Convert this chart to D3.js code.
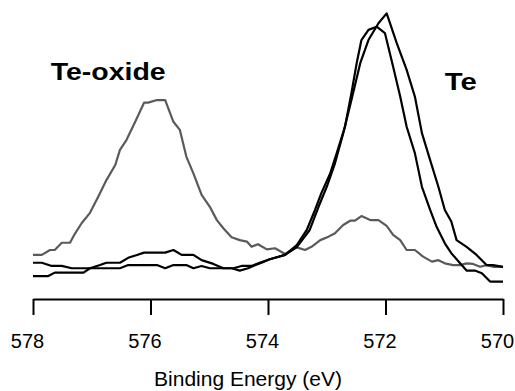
<!DOCTYPE html>
<html>
<head>
<meta charset="utf-8">
<script src="https://cdn.jsdelivr.net/npm/d3@7"></script>
<style>
  html, body { margin: 0; padding: 0; background: #fff; }
  svg { display: block; }
  text { font-family: "Liberation Sans", Arial, sans-serif; fill: #000; }
</style>
</head>
<body>
<svg id="chart" width="515" height="391"></svg>
<script>
// Te 3d5/2 XPS region: binding energy (eV) and normalised intensity (a.u.)
const oxideEnergy = [578.0, 577.85, 577.71, 577.63, 577.51, 577.37, 577.29, 577.17, 577.03, 576.89,
  576.75, 576.60, 576.52, 576.41, 576.26, 576.11, 576.04, 575.89, 575.75, 575.61, 575.50, 575.39,
  575.27, 575.13, 574.99, 574.87, 574.76, 574.62, 574.48, 574.36, 574.28, 574.17, 574.02, 573.88,
  573.71, 573.51, 573.37, 573.26, 573.11, 572.97, 572.86, 572.72, 572.60, 572.52, 572.41, 572.26,
  572.12, 571.98, 571.87, 571.75, 571.64, 571.50, 571.36, 571.21, 571.10, 570.99, 570.85, 570.73,
  570.62, 570.51, 570.39, 570.28, 570.17, 570.0];
const oxideIntensity = [15.2, 15.2, 16.9, 16.9, 19.4, 19.4, 22.4, 26.2, 29.7, 35.3,
  41.0, 46.2, 51.4, 54.8, 61.1, 67.7, 67.7, 68.6, 68.6, 61.1, 58.3, 49.1,
  43.3, 35.9, 31.8, 27.2, 24.4, 21.3, 20.3, 19.8, 18.0, 18.9, 17.1, 17.5,
  15.5, 17.8, 16.9, 18.0, 20.3, 21.5, 22.7, 25.5, 27.0, 27.0, 28.6, 27.2,
  27.2, 25.2, 22.1, 20.3, 16.9, 16.9, 14.6, 12.9, 13.4, 12.3, 11.7, 11.7,
  12.3, 12.1, 11.1, 11.7, 11.1, 11.1];

const metalAEnergy = [578.0, 577.74, 577.63, 577.14, 577.03, 576.86, 576.75, 576.52, 576.38, 576.23,
  576.11, 575.75, 575.61, 575.47, 575.27, 575.13, 574.93, 574.76, 574.62, 574.48, 574.34, 574.25,
  574.11, 573.97, 573.71, 573.51, 573.34, 573.20, 573.09, 572.94, 572.83, 572.69, 572.58, 572.49,
  572.41, 572.29, 572.15, 572.01, 571.87, 571.75, 571.64, 571.50, 571.38, 571.24, 571.13, 570.99,
  570.88, 570.73, 570.62, 570.48, 570.36, 570.22, 570.0];
const metalAIntensity = [7.9, 7.9, 9.1, 9.1, 10.6, 11.7, 12.5, 12.5, 14.2, 15.2,
  16.0, 16.0, 16.9, 15.2, 15.2, 13.4, 12.1, 10.6, 10.6, 9.8, 10.6, 11.4,
  12.5, 13.7, 15.2, 18.6, 23.8, 30.7, 36.6, 43.4, 50.3, 59.4, 71.0, 81.4,
  89.3, 92.8, 93.9, 91.7, 80.1, 69.8, 59.4, 50.3, 38.7, 30.7, 24.9, 19.2,
  15.8, 12.3, 9.8, 9.8, 8.9, 6.0, 6.0];

const metalBEnergy = [578.0, 577.85, 577.68, 577.51, 577.34, 576.52, 576.38, 575.89, 575.75, 575.61,
  575.39, 575.27, 575.13, 574.99, 574.59, 574.45, 574.28, 574.14, 573.97, 573.71, 573.51, 573.29,
  573.14, 573.0, 572.86, 572.72, 572.58, 572.43, 572.29, 572.12, 571.98, 571.81, 571.64, 571.50,
  571.38, 571.24, 571.10, 570.99, 570.88, 570.79, 570.62, 570.45, 570.28, 570.17, 570.0];
const metalBIntensity = [12.5, 12.5, 11.4, 11.4, 10.6, 10.6, 11.7, 11.7, 10.6, 11.7,
  11.7, 10.6, 11.4, 10.6, 10.6, 11.4, 11.4, 12.5, 13.7, 15.2, 17.9, 23.8,
  31.8, 38.7, 46.8, 57.1, 68.6, 81.3, 89.3, 95.1, 98.5, 88.3, 79.0, 69.8,
  57.2, 47.9, 38.7, 30.7, 26.7, 20.3, 18.0, 15.2, 11.7, 11.7, 11.1];

const xTicks = [578, 576, 574, 572, 570];
const axisTitle = "Binding Energy (eV)";
const peakLabels = [
  { text: "Te-oxide", energy: 577.7, intensity: 75.5, width: 115 },
  { text: "Te", energy: 570.99, intensity: 72, width: 32 }
];

const series = [
  { name: "oxide", energy: oxideEnergy, intensity: oxideIntensity, color: "#5a5a5a" },
  { name: "metalA", energy: metalAEnergy, intensity: metalAIntensity, color: "#000000" },
  { name: "metalB", energy: metalBEnergy, intensity: metalBIntensity, color: "#000000" }
];

const svg = d3.select("#chart");

// binding energy runs high to low, left to right
const x = d3.scaleLinear().domain([578, 570]).range([33, 503]);
const y = d3.scaleLinear().domain([0, 100]).range([299, 9]);

const line = d3.line()
  .x(d => x(d[0]))
  .y(d => y(d[1]));

svg.append("g")
  .selectAll("path")
  .data(series)
  .join("path")
  .attr("d", s => line(d3.zip(s.energy, s.intensity)))
  .attr("fill", "none")
  .attr("stroke", s => s.color)
  .attr("stroke-width", 2.2)
  .attr("stroke-linejoin", "round");

const axis = svg.append("g")
  .attr("transform", "translate(0,299)")
  .call(d3.axisBottom(x).tickValues(xTicks).tickFormat(d3.format("d"))
    .tickSize(16).tickSizeOuter(0).tickPadding(19));

axis.select(".domain").attr("stroke", "#000").attr("stroke-width", 2);
axis.selectAll(".tick line").attr("stroke", "#000").attr("stroke-width", 2);
axis.selectAll(".tick text")
  .attr("font-family", "Liberation Sans, Arial, sans-serif")
  .attr("font-size", 20)
  .attr("x", -6)
  .attr("fill", "#000");

svg.append("text")
  .attr("x", x(574) - 20)
  .attr("y", 385.5)
  .attr("text-anchor", "middle")
  .attr("font-size", 21)
  .text(axisTitle);

svg.append("g")
  .selectAll("text")
  .data(peakLabels)
  .join("text")
  .attr("x", d => x(d.energy))
  .attr("y", d => y(d.intensity))
  .attr("font-size", 24)
  .attr("font-weight", "bold")
  .attr("textLength", d => d.width)
  .attr("lengthAdjust", "spacingAndGlyphs")
  .text(d => d.text);
</script>
</body>
</html>
